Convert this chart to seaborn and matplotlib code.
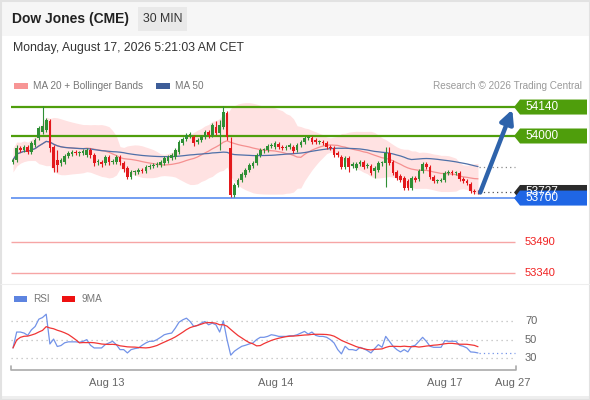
import numpy as np
import pandas as pd
import matplotlib
matplotlib.use("Agg")
import matplotlib.pyplot as plt
import matplotlib.transforms as mtransforms
from matplotlib.patches import Polygon, Rectangle
import seaborn as sns

# 30 min candles, Aug 12 evening -> Aug 17 morning
opens = [53874, 53884, 53942, 53932, 53947, 53923, 53957, 53990, 54019, 54029,
         54072, 53947, 53884, 53870, 53874, 53903, 53913, 53923, 53918, 53918,
         53908, 53932, 53908, 53874, 53874, 53870, 53899, 53874, 53874, 53899,
         53870, 53845, 53802, 53826, 53826, 53836, 53831, 53850, 53855, 53860,
         53860, 53870, 53879, 53894, 53899, 53923, 53966, 53986, 54005, 53995,
         53971, 53981, 53995, 54019, 54005, 54043, 54014, 54043, 54111, 53942,
         53715, 53763, 53787, 53812, 53836, 53855, 53870, 53908, 53932, 53932,
         53952, 53947, 53961, 53947, 53942, 53947, 53947, 53932, 53957, 53971,
         53990, 53990, 53981, 53971, 53971, 53966, 53947, 53942, 53918, 53899,
         53850, 53894, 53855, 53845, 53865, 53874, 53855, 53855, 53831, 53836,
         53870, 53870, 53918, 53874, 53826, 53807, 53797, 53783, 53749, 53797,
         53792, 53831, 53865, 53850, 53802, 53783, 53783, 53787, 53821, 53826,
         53821, 53821, 53792, 53783, 53768, 53734, 53729]
highs = [53894, 53957, 53952, 53957, 53957, 53976, 53990, 54048, 54145, 54087,
         54082, 53957, 53932, 53894, 53913, 53928, 53932, 53932, 53928, 53937,
         53942, 53942, 53918, 53889, 53884, 53908, 53908, 53889, 53908, 53908,
         53879, 53855, 53836, 53836, 53845, 53845, 53860, 53865, 53870, 53874,
         53884, 53903, 53908, 53918, 53942, 53981, 53995, 54014, 54019, 54005,
         53990, 54005, 54029, 54029, 54063, 54072, 54077, 54145, 54121, 53995,
         53773, 53797, 53826, 53845, 53870, 53879, 53918, 53942, 53942, 53961,
         53966, 53976, 53971, 53957, 53957, 53966, 53957, 53966, 53981, 54000,
         54000, 54000, 53990, 53981, 53981, 53976, 53957, 53952, 53928, 53908,
         53903, 53903, 53874, 53874, 53884, 53884, 53870, 53865, 53855, 53879,
         53879, 53947, 53947, 53884, 53836, 53816, 53807, 53792, 53807, 53807,
         53841, 53874, 53874, 53860, 53812, 53792, 53797, 53831, 53836, 53836,
         53831, 53831, 53802, 53792, 53778, 53744, 53739]
lows = [53865, 53874, 53923, 53923, 53913, 53913, 53947, 53981, 54010, 54019,
        53923, 53826, 53826, 53855, 53865, 53894, 53903, 53908, 53903, 53908,
        53899, 53894, 53855, 53860, 53850, 53860, 53860, 53865, 53865, 53860,
        53826, 53792, 53792, 53812, 53816, 53821, 53821, 53841, 53845, 53850,
        53850, 53860, 53870, 53884, 53889, 53913, 53957, 53976, 53990, 53952,
        53961, 53971, 53986, 53990, 53995, 54005, 53932, 54034, 53981, 53705,
        53705, 53754, 53778, 53802, 53826, 53845, 53860, 53899, 53918, 53923,
        53942, 53937, 53937, 53932, 53932, 53937, 53918, 53923, 53947, 53961,
        53981, 53961, 53961, 53961, 53957, 53937, 53932, 53899, 53899, 53841,
        53841, 53826, 53845, 53836, 53855, 53841, 53845, 53812, 53797, 53826,
        53855, 53754, 53860, 53812, 53787, 53778, 53739, 53739, 53739, 53778,
        53783, 53821, 53841, 53792, 53773, 53773, 53778, 53778, 53812, 53812,
        53812, 53783, 53773, 53763, 53725, 53720, 53720]
closes = [53884, 53942, 53932, 53947, 53923, 53966, 53981, 54039, 54048, 54077,
          53942, 53845, 53860, 53884, 53903, 53918, 53923, 53918, 53918, 53928,
          53932, 53908, 53870, 53874, 53865, 53899, 53874, 53879, 53899, 53874,
          53841, 53802, 53826, 53826, 53836, 53831, 53850, 53855, 53860, 53865,
          53874, 53894, 53899, 53908, 53932, 53971, 53986, 54005, 54005, 53966,
          53981, 53995, 54019, 54005, 54053, 54014, 54053, 54116, 53995, 53715,
          53763, 53787, 53816, 53836, 53860, 53870, 53908, 53932, 53932, 53952,
          53957, 53966, 53947, 53942, 53947, 53957, 53928, 53957, 53971, 53990,
          53990, 53971, 53971, 53971, 53966, 53947, 53942, 53908, 53908, 53850,
          53894, 53850, 53865, 53865, 53874, 53850, 53860, 53821, 53845, 53870,
          53870, 53918, 53870, 53821, 53797, 53787, 53749, 53749, 53797, 53787,
          53831, 53865, 53850, 53802, 53783, 53783, 53787, 53821, 53826, 53821,
          53821, 53792, 53783, 53773, 53734, 53729, 53727]
rsi = [41.4, 58.6, 58.6, 57.5, 55.0, 61.0, 64.6, 72.5, 74.3, 77.9,
       45.7, 51.0, 43.0, 44.0, 47.0, 48.0, 48.0, 48.0, 47.5, 48.6,
       50.4, 44.3, 41.4, 41.4, 41.4, 45.0, 46.8, 48.6, 45.0, 39.6,
       39.6, 36.0, 39.6, 40.7, 41.4, 44.3, 46.8, 48.6, 48.6, 50.4,
       52.9, 55.7, 56.8, 57.5, 62.9, 69.3, 71.8, 73.6, 70.0, 64.6,
       65.7, 68.2, 70.0, 66.4, 68.2, 66.4, 58.6, 70.7, 50.4, 33.6,
       37.9, 40.7, 43.2, 44.3, 45.7, 46.8, 50.4, 52.9, 52.9, 53.9,
       55.7, 55.0, 53.9, 53.9, 53.9, 54.6, 54.6, 55.7, 57.5, 59.3,
       56.4, 58.6, 55.0, 53.9, 53.9, 52.9, 50.4, 46.8, 39.6, 35.0,
       43.2, 39.6, 39.6, 38.6, 42.1, 40.7, 38.6, 36.0, 40.7, 45.0,
       42.1, 53.9, 48.6, 43.2, 39.6, 37.1, 39.6, 37.1, 43.2, 44.3,
       48.6, 52.9, 48.6, 43.2, 42.1, 42.1, 42.1, 49.3, 48.6, 48.6,
       48.6, 44.3, 43.2, 41.4, 37.1, 36.8, 36.0]

day_labels = ['Aug 13', 'Aug 14', 'Aug 17', 'Aug 27']
day_pos = [25.5, 71.3, 117.1, 135.5]   # candle index of each day start

target_levels = [54140, 54000]
pivot_level = 53700
support_levels = [53490, 53340]
last_price = 53727

GREEN = '#2f8f35'
RED = '#e3191c'

sns.set_theme(style="white")
plt.rcParams['font.family'] = ['Liberation Sans', 'DejaVu Sans']

W, H = 590, 400
fig = plt.figure(figsize=(W / 100, H / 100), dpi=100)
fig.patch.set_facecolor('white')


def rect(x0, y0, x1, y1):
    # pixel box -> figure fraction
    return [x0 / W, 1 - y1 / H, (x1 - x0) / W, (y1 - y0) / H]


# overlay in pixel coordinates for header, legends, frame
ov = fig.add_axes([0, 0, 1, 1], zorder=0)
ov.set_xlim(0, W)
ov.set_ylim(H, 0)
ov.axis('off')

ax = fig.add_axes(rect(11, 100, 516, 282), zorder=1)
ax2 = fig.add_axes(rect(11, 300, 516, 365), zorder=1)
XMIN, XMAX = -0.54, 136.3
ax.set_xlim(XMIN, XMAX)
ax.set_ylim(53294.3, 54174)
ax2.set_xlim(XMIN, XMAX)
ax2.set_ylim(22.97, 93.24)
for a in (ax, ax2):
    a.axis('off')
    a.patch.set_alpha(0)

df = pd.DataFrame({'i': np.arange(len(closes)), 'open': opens, 'high': highs,
                   'low': lows, 'close': closes, 'rsi': rsi})
df['ma20'] = df['close'].rolling(20, min_periods=1).mean()
sd = df['close'].rolling(20, min_periods=2).std(ddof=0).bfill()
df['bb_up'] = df['ma20'] + 2 * sd
df['bb_lo'] = df['ma20'] - 2 * sd
df['ma50'] = df['close'].rolling(50, min_periods=1).mean()
df['rsi_ma'] = df['rsi'].rolling(9, min_periods=1).mean()

# --- main price panel ---
ax.fill_between(df['i'], df['bb_lo'], df['bb_up'], color='#ffe2e2', lw=0, zorder=1)
sns.lineplot(data=df, x='i', y='ma20', ax=ax, color='#f59090', lw=0.9, zorder=2)
sns.lineplot(data=df, x='i', y='ma50', ax=ax, color='#4f70a8', lw=0.9, zorder=2)

line_end = 136.0
ax.hlines(target_levels, XMIN, line_end, color='#4f9e0c', lw=1.6, zorder=2)
ax.hlines(pivot_level, XMIN, line_end, color='#5b8ef0', lw=1.2, zorder=2)
ax.hlines(support_levels, XMIN, line_end, color='#f6a5a5', lw=1.0, zorder=2)

for _, r in df.iterrows():
    c = GREEN if r['close'] >= r['open'] else RED
    ax.vlines(r['i'], r['low'], r['high'], color=c, lw=0.8, zorder=3)
    lo = min(r['open'], r['close'])
    ax.bar(r['i'], max(abs(r['close'] - r['open']), 4), bottom=lo, width=0.72,
           color=c, lw=0, zorder=4)

last_i = df['i'].iloc[-1]
ax.hlines(last_price, last_i + 0.4, line_end - 0.3, color='#555555',
          ls=(0, (1, 2.5)), lw=0.9, zorder=2)
ax.hlines(df['ma50'].iloc[-1], last_i + 0.4, line_end, color='#888888',
          ls=(0, (1, 2.5)), lw=0.9, zorder=2)

ax.annotate('', xy=(135.3, target_levels[0] - 12), xytext=(last_i + 0.6, last_price),
            arrowprops=dict(arrowstyle='-|>', color='#2e63ab', lw=3.2,
                            mutation_scale=20, shrinkA=0, shrinkB=0), zorder=6)

# price tags on the right
bt = mtransforms.blended_transform_factory(ov.transData, ax.transData)
ppx = (54174 - 53294.3) / 182.0


def tag(price, face, text):
    h = 7.5 * ppx
    pts = [(514, price), (520, price + h), (587, price + h), (587, price - h), (520, price - h)]
    ax.add_patch(Polygon(pts, closed=True, transform=bt, facecolor=face,
                         edgecolor='none', clip_on=False, zorder=10))
    ax.text(525, price, text, transform=bt, color='white', fontsize=8.5,
            va='center', ha='left', clip_on=False, zorder=11)


for lv in target_levels:
    tag(lv, '#4f9e0c', f'{lv}')
tag(last_price, '#2b2b2b', f'{last_price}')
tag(pivot_level, '#1f66e5', f'{pivot_level}')
for lv in support_levels:
    ax.text(525, lv, f'{lv}', transform=bt, color='#f02020', fontsize=8,
            va='center', ha='left', clip_on=False)

# --- RSI panel ---
ax2.hlines([30, 50, 70], XMIN, line_end, color='#bdbdbd', ls=(0, (1, 3)), lw=0.9)
sns.lineplot(data=df, x='i', y='rsi', ax=ax2, color='#7393e8', lw=0.9)
sns.lineplot(data=df, x='i', y='rsi_ma', ax=ax2, color='#f03535', lw=0.9)
ax2.hlines(rsi[-1], last_i + 0.4, line_end, color='#7393e8', ls=(0, (1, 2.5)), lw=0.9)
bt2 = mtransforms.blended_transform_factory(ov.transData, ax2.transData)
for v in (70, 50, 30):
    ax2.text(525, v, str(v), transform=bt2, color='#666666', fontsize=8,
             va='center', ha='left', clip_on=False)

bx = mtransforms.blended_transform_factory(ax2.transData, ov.transData)
for lab, pos in zip(day_labels, day_pos):
    ax2.text(pos, 383, lab, transform=bx, color='#666666', fontsize=8,
             ha='center', va='center', clip_on=False)

# --- decorations in pixel space ---
ov.add_patch(Rectangle((0, 0), W, 36, color='#f6f6f6', lw=0))
ov.add_patch(Rectangle((138, 7), 49, 24, color='#e9e9e9', lw=0))
ov.text(12, 19, 'Dow Jones (CME)', fontsize=10, fontweight='bold', color='#222222', va='center')
ov.text(162.5, 19, '30 MIN', fontsize=8.8, color='#333333', va='center', ha='center')
ov.text(13, 48, 'Monday, August 17, 2026 5:21:03 AM CET', fontsize=8.8,
        color='#333333', va='center')

ov.add_patch(Rectangle((14, 83), 14, 6, color='#f79595', lw=0))
ov.text(33, 86, 'MA 20 + Bollinger Bands', fontsize=7.2, color='#777777', va='center')
ov.add_patch(Rectangle((156, 83), 14, 6, color='#3d5d98', lw=0))
ov.text(175, 86, 'MA 50', fontsize=7.2, color='#777777', va='center')
ov.text(582, 86, 'Research \u00a9 2026 Trading Central', fontsize=7.2, color='#9a9a9a',
        va='center', ha='right')

ov.hlines(284, 0, W, color='#eeeeee', lw=0.8)
ov.add_patch(Rectangle((14, 296), 13, 6, color='#5d84e0', lw=0))
ov.text(33, 299, 'RSI', fontsize=7.2, color='#777777', va='center')
ov.add_patch(Rectangle((62, 296), 13, 6, color='#ee1111', lw=0))
ov.text(82, 299, '9MA', fontsize=7.2, color='#777777', va='center')

ov.plot([11, 11, 516, 516], [366, 370, 370, 366], color='#aaaaaa', lw=1.2)

ov.add_patch(Rectangle((0, 396), W, 4, color='#eeeeee', lw=0))
ov.add_patch(Rectangle((0.5, 0.5), W - 1, H - 1, fill=False, edgecolor='#e2e2e2', lw=1.5))

fig.savefig('out.png', dpi=100)
